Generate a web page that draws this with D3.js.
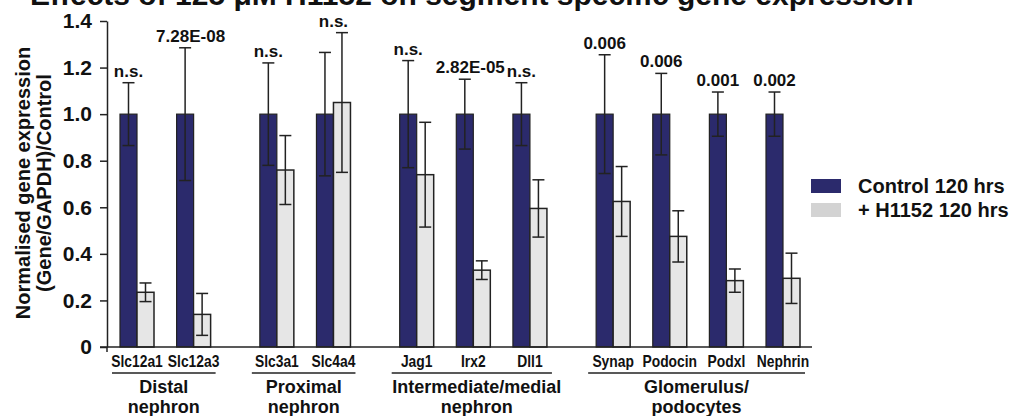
<!DOCTYPE html>
<html>
<head>
<meta charset="utf-8">
<script src="https://cdn.jsdelivr.net/npm/d3@7"></script>
<style>
  body { margin: 0; background: #fff; }
  svg text { font-family: "Liberation Sans", Arial, sans-serif; font-weight: bold; fill: #111; }
</style>
</head>
<body>
<svg id="chart" width="1016" height="416"></svg>
<script>
// data
const genes = ["Slc12a1", "Slc12a3", "Slc3a1", "Slc4a4", "Jag1", "Irx2", "Dll1",
               "Synap", "Podocin", "Podxl", "Nephrin"];
const geneGroup = [0, 0, 1, 1, 2, 2, 2, 3, 3, 3, 3];
const groupLabels = [["Distal", "nephron"], ["Proximal", "nephron"],
                     ["Intermediate/medial", "nephron"], ["Glomerulus/", "podocytes"]];
const controlMean = [1, 1, 1, 1, 1, 1, 1, 1, 1, 1, 1];
const controlErr = [0.135, 0.285, 0.22, 0.265, 0.23, 0.15, 0.135, 0.255, 0.175, 0.095, 0.095];
const h1152Mean = [0.235, 0.14, 0.76, 1.05, 0.74, 0.33, 0.595, 0.625, 0.475, 0.285, 0.295];
const h1152Err = [0.04, 0.09, 0.148, 0.30, 0.225, 0.04, 0.123, 0.15, 0.11, 0.05, 0.108];
const pLabels = ["n.s.", "7.28E-08", "n.s.", "n.s.", "n.s.", "2.82E-05", "n.s.",
                 "0.006", "0.006", "0.001", "0.002"];
const yTicks = [0, 0.2, 0.4, 0.6, 0.8, 1.0, 1.2, 1.4];
const seriesNames = ["Control 120 hrs", "+ H1152 120 hrs"];

const NAVY = "#2b2a6c";
const LIGHT = "#e6e6e6";
const INK = "#222";

const svg = d3.select("#chart");

// title, cut off at the top of the frame
svg.append("text")
  .attr("x", 30).attr("y", 5)
  .attr("font-size", 30)
  .text("Effects of 125 \u03bcM H1152 on segment specific gene expression");

const y = d3.scaleLinear().domain([0, 1.4]).range([347, 21]);

// slot position: gene index plus a gap for each new group
const GAP = 0.47;
const slot = i => i + geneGroup[i] * GAP;
const x = d3.scaleLinear().domain([0, slot(genes.length - 1)]).range([137, 783]);
const barW = 17;
const capW = 12;

// y axis
const yAxis = d3.axisLeft(y)
  .tickValues(yTicks)
  .tickFormat(d => d === 0 ? "0" : d3.format(".1f")(d))
  .tickSize(7)
  .tickSizeOuter(0)
  .tickPadding(8);

const ga = svg.append("g").attr("transform", "translate(107,0)").call(yAxis);
ga.selectAll("path, line").attr("stroke", INK).attr("stroke-width", 1.5);
ga.selectAll("text")
  .attr("font-size", 21)
  .attr("font-family", "Liberation Sans, Arial, sans-serif")
  .attr("font-weight", "bold")
  .attr("fill", "#111");

// bit of the y axis below the baseline
svg.append("line")
  .attr("x1", 107).attr("x2", 107)
  .attr("y1", y(0)).attr("y2", y(0) + 5)
  .attr("stroke", INK).attr("stroke-width", 1.5);

// y axis title
const yt = svg.append("text")
  .attr("transform", `translate(30,183) rotate(-90)`)
  .attr("text-anchor", "middle")
  .attr("font-size", 20);
yt.append("tspan").attr("x", 0).attr("dy", 0).text("Normalised gene expression");
yt.append("tspan").attr("x", 0).attr("dy", 21).text("(Gene/GAPDH)/Control");

// bars
const bars = svg.append("g");
genes.forEach((g, i) => {
  const xc = x(slot(i));
  bars.append("rect")
    .attr("x", xc - barW).attr("width", barW)
    .attr("y", y(controlMean[i])).attr("height", y(0) - y(controlMean[i]))
    .attr("fill", NAVY).attr("stroke", INK).attr("stroke-width", 1.2);
  bars.append("rect")
    .attr("x", xc).attr("width", barW)
    .attr("y", y(h1152Mean[i])).attr("height", y(0) - y(h1152Mean[i]))
    .attr("fill", LIGHT).attr("stroke", INK).attr("stroke-width", 1.5);
});

// error bars
function errorBar(cx, mean, err) {
  const e = bars.append("g").attr("stroke", INK).attr("stroke-width", 1.5);
  e.append("line").attr("x1", cx).attr("x2", cx).attr("y1", y(mean - err)).attr("y2", y(mean + err));
  [mean - err, mean + err].forEach(v => {
    e.append("line").attr("x1", cx - capW / 2).attr("x2", cx + capW / 2).attr("y1", y(v)).attr("y2", y(v));
  });
}
genes.forEach((g, i) => {
  const xc = x(slot(i));
  errorBar(xc - barW / 2, controlMean[i], controlErr[i]);
  errorBar(xc + barW / 2, h1152Mean[i], h1152Err[i]);
});

// p values
genes.forEach((g, i) => {
  const xc = x(slot(i));
  const cTop = controlMean[i] + controlErr[i];
  const hTop = h1152Mean[i] + h1152Err[i];
  const top = Math.max(cTop, hTop);
  // long labels sit a little to the right, over the pair
  const lx = hTop > cTop ? xc : (pLabels[i].length > 5 ? xc - 3 : xc - barW / 2);
  svg.append("text")
    .attr("x", lx)
    .attr("y", y(top) - 6)
    .attr("text-anchor", "middle")
    .attr("font-size", 17)
    .text(pLabels[i]);
});

// x baseline
svg.append("line")
  .attr("x1", 100).attr("x2", 812)
  .attr("y1", y(0)).attr("y2", y(0))
  .attr("stroke", INK).attr("stroke-width", 1.5);

// gene labels, condensed
genes.forEach((g, i) => {
  svg.append("text")
    .attr("transform", `translate(${x(slot(i))},367) scale(0.84,1)`)
    .attr("text-anchor", "middle")
    .attr("font-size", 16.5)
    .text(g);
});

// group underlines and labels
groupLabels.forEach((lines, gi) => {
  const idx = genes.map((g, i) => i).filter(i => geneGroup[i] === gi);
  const x0 = x(slot(idx[0])) - 25;
  const x1 = x(slot(idx[idx.length - 1])) + 22;
  svg.append("line")
    .attr("x1", x0).attr("x2", x1)
    .attr("y1", 373).attr("y2", 373)
    .attr("stroke", INK).attr("stroke-width", 1.5);
  lines.forEach((t, li) => {
    svg.append("text")
      .attr("x", (x0 + x1) / 2 + (gi === 2 ? 5 : 0))
      .attr("y", 393 + li * 20)
      .attr("text-anchor", "middle")
      .attr("font-size", 18)
      .text(t);
  });
});

// legend
const legend = svg.append("g").attr("transform", "translate(811,179)");
seriesNames.forEach((name, i) => {
  const row = legend.append("g").attr("transform", `translate(0,${i * 24})`);
  row.append("rect")
    .attr("width", 30).attr("height", 14)
    .attr("fill", i === 0 ? NAVY : "#d3d3d3");
  row.append("text")
    .attr("x", 47).attr("y", 14)
    .attr("font-size", 20)
    .text(name);
});
</script>
</body>
</html>
